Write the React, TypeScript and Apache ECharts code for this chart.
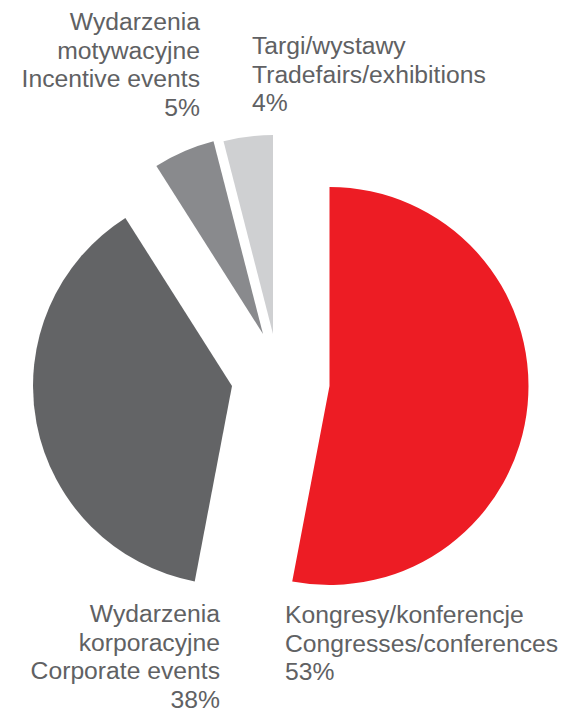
import React, { useEffect, useRef } from "react";
import * as echarts from "echarts";

// ---- data ----
const categoriesPl: string[][] = [
  ["Kongresy/konferencje"],
  ["Wydarzenia", "korporacyjne"],
  ["Wydarzenia", "motywacyjne"],
  ["Targi/wystawy"],
];
const categoriesEn: string[] = [
  "Congresses/conferences",
  "Corporate events",
  "Incentive events",
  "Tradefairs/exhibitions",
];
const shares: number[] = [53, 38, 5, 4];

// ---- styling / layout (not data) ----
const colors = ["#ED1C24", "#636466", "#898A8D", "#CFD0D2"];
const centers: [number, number][] = [
  [329.5, 386],
  [232, 386],
  [263, 334],
  [273, 334],
];
const RADIUS = 199;
const labelAnchors = [
  { x: 285, y: 623, align: "left" },
  { x: 220, y: 622, align: "right" },
  { x: 200, y: 30, align: "right" },
  { x: 252, y: 54, align: "left" },
];
const FONT_SIZE = 24.7;
const LINE_H = 28.6;
const TEXT_COLOR = "#606163";

export default function App() {
  const ref = useRef<HTMLDivElement>(null);
  useEffect(() => {
    if (!ref.current) return;
    const chart = echarts.init(ref.current, undefined, { renderer: "svg" });

    const series = shares.map((_, k) => ({
      type: "pie",
      silent: true,
      radius: RADIUS,
      center: centers[k],
      startAngle: 90,
      clockwise: true,
      avoidLabelOverlap: false,
      label: { show: false },
      labelLine: { show: false },
      emphasis: { disabled: true },
      data: shares.map((v, i) => ({
        name: categoriesEn[i],
        value: v,
        itemStyle: {
          color: i === k ? colors[k] : "rgba(0,0,0,0)",
          borderWidth: 0,
        },
      })),
    }));

    const graphics: any[] = [];
    shares.forEach((v, i) => {
      const lines = [...categoriesPl[i], categoriesEn[i], `${v}%`];
      const a = labelAnchors[i];
      lines.forEach((t, j) => {
        graphics.push({
          type: "text",
          silent: true,
          style: {
            text: t,
            x: a.x,
            y: a.y + j * LINE_H - 8.5,
            fill: TEXT_COLOR,
            font: `${FONT_SIZE}px "Liberation Sans", Arial, sans-serif`,
            textAlign: a.align,
            textVerticalAlign: "middle",
          },
        });
      });
    });

    chart.setOption({
      animation: false,
      backgroundColor: "#ffffff",
      series,
      graphic: graphics,
    });
    return () => chart.dispose();
  }, []);

  return (
    <div
      ref={ref}
      style={{ position: "absolute", left: 0, top: 0, width: 563, height: 714 }}
    />
  );
}
